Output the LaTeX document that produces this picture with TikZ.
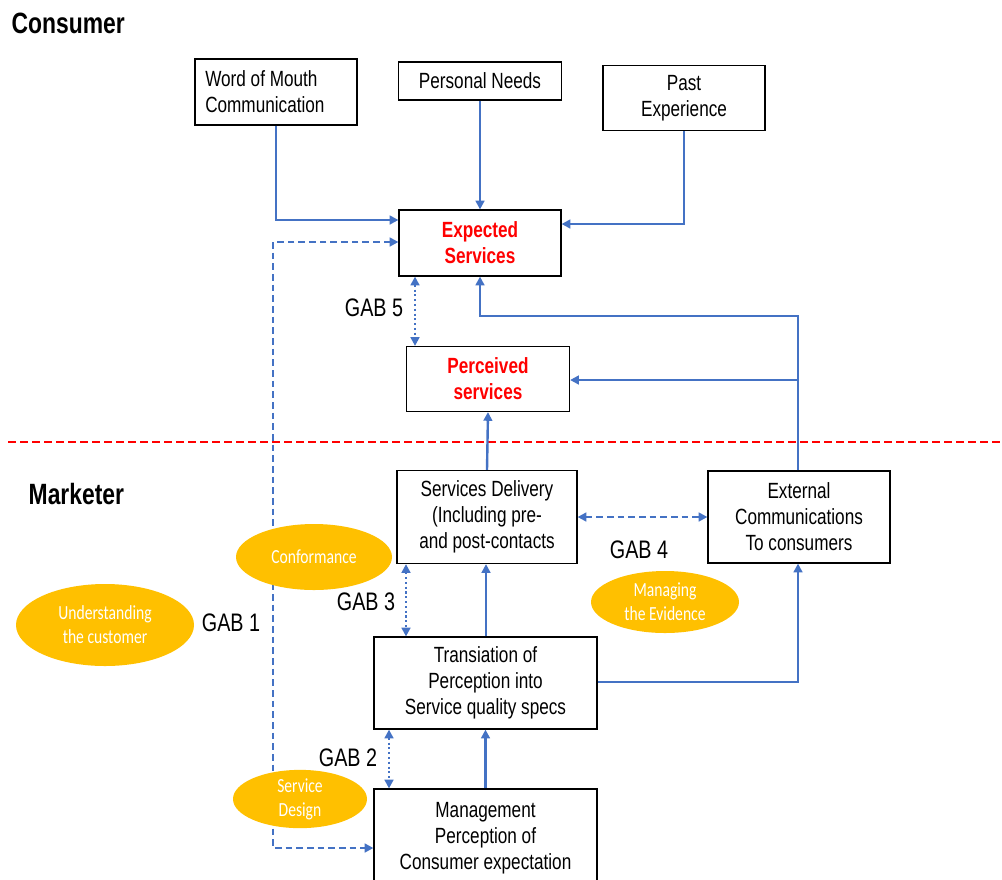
\documentclass[tikz,border=0pt]{standalone}
\usepackage{fontspec}
\setmainfont{Liberation Sans}[FakeStretch=0.78]
\newfontfamily\ellfont{Carlito}[FakeStretch=0.78]
\usetikzlibrary{arrows.meta,shapes.geometric}
\definecolor{blu}{HTML}{4472C4}
\definecolor{gold}{HTML}{FFC000}
\definecolor{redd}{HTML}{FF0000}
\tikzset{
  box/.style={draw=black,line width=0.9pt,align=center,inner sep=0pt,
    font=\fontsize{16.5}{19.5}\selectfont},
  redtxt/.style={text=redd,font=\fontsize{16.5}{19.5}\selectfont\bfseries},
  conn/.style={draw=blu,line width=1.8pt,-{Triangle[length=6.5pt,width=6.5pt]}},
  dconn/.style={draw=blu,line width=1.8pt,dash pattern=on 5pt off 3pt,
    {Triangle[length=6.5pt,width=6.5pt]}-{Triangle[length=6.5pt,width=6.5pt]}},
  gapconn/.style={draw=blu,line width=1.8pt,dash pattern=on 1.6pt off 2pt,
    {Triangle[length=6.5pt,width=6.5pt]}-{Triangle[length=6.5pt,width=6.5pt]}},
  gab/.style={font=\fontsize{19}{22}\selectfont},
  ell/.style={ellipse,fill=gold,draw=none,text=white,align=center,inner sep=0pt,
    font=\ellfont\fontsize{15}{18}\selectfont},
  title/.style={font=\fontsize{22}{26}\selectfont\bfseries,anchor=west}
}
\begin{document}
\begin{tikzpicture}[x=0.75pt,y=-0.75pt]
\useasboundingbox (0,0) rectangle (1002,879);
\node[title] (cons) at (7,23) {Consumer};
\node[title] (mark) at (24,494) {Marketer};
% separator
\coordinate (sepL) at (8,442);
\coordinate (sepR) at (1002,442);
\draw[redd,line width=1.5pt,dash pattern=on 6pt off 3pt] (sepL) -- (sepR);

% boxes
\node[box,minimum width=121.5pt,minimum height=49.5pt] (wom) at (276,92) {};
\node[font=\fontsize{16.5}{19.5}\selectfont,align=left,inner sep=0pt,anchor=west] (womtxt) at (205,92) {Word of Mouth\\Communication};
\node[box,minimum width=122.25pt,minimum height=28.5pt] (pn) at (480,81) {Personal Needs};
\node[box,minimum width=121.5pt,minimum height=48.75pt] (pe) at (684,98) {Past\\Experience};
\node[box,minimum width=121.5pt,minimum height=49.5pt,redtxt] (exp) at (480,243) {Expected\\Services};
\node[box,minimum width=122.25pt,minimum height=48.75pt,redtxt] (per) at (488,379) {Perceived\\services};
\node[box,minimum width=135pt,minimum height=69.75pt] (sd) at (487,517) {Services Delivery\\(Including pre-\\and post-contacts};
\node[box,minimum width=136.5pt,minimum height=69pt] (ext) at (799,517) {External\\Communications\\To consumers};
\node[box,minimum width=167.25pt,minimum height=69pt] (tr) at (485.5,683) {Transiation of\\Perception into\\Service quality specs};
\node[box,minimum width=167.25pt,minimum height=73.5pt] (mg) at (485.5,838) {Management\\Perception of\\Consumer expectation};

% consumer side connectors
\draw[conn] (wom.south) |- (exp.west |- 0,220);
\draw[conn] (pn.south) -- (exp.north);
\draw[conn] (pe.south) |- (exp.east |- 0,224);
\coordinate (dA) at (273,242);
\coordinate (dB) at (273,848);
\draw[dconn] (exp.west |- dA) -- (dA) -- (dB) -- (mg.west |- dB);

\coordinate (eTop) at (798,316);
\coordinate (eMid) at (798,380);
\draw[conn] (ext.north -| eTop) -- (eTop) -| (exp.south);
\draw[conn] (eMid) -- (per.east |- eMid);
\draw[conn] (sd.north) -- (per.south);
\draw[conn] (tr.north -| 486,0) -- (sd.south -| 486,0);
\coordinate (tR) at (798,682);
\draw[conn] (tr.east |- tR) -- (tR) -- (ext.south -| tR);
\draw[conn] (mg.north) -- (tr.south);

% gaps
\draw[gapconn] (exp.south -| 415,0) -- (per.north -| 415,0);
\draw[dconn] (sd.east |- 0,517) -- (ext.west |- 0,517);
\draw[gapconn] (sd.south -| 406,0) -- (tr.north -| 406,0);
\draw[gapconn] (tr.south -| 389,0) -- (mg.north -| 389,0);

\node[gab] (g5) at (374,308) {GAB 5};
\node[gab] (g4) at (639,550) {GAB 4};
\node[gab] (g3) at (366,602) {GAB 3};
\node[gab] (g2) at (348,758) {GAB 2};
\node[gab] (g1) at (231,623) {GAB 1};

% ellipses
\node[ell,minimum width=117pt,minimum height=49.5pt] (conf) at (314,557) {Conformance};
\node[ell,minimum width=133.5pt,minimum height=61.5pt] (und) at (105,625) {Understanding\\the customer};
\node[ell,minimum width=111pt,minimum height=46.5pt] (me) at (665,602) {Managing\\the Evidence};
\node[ell,minimum width=100.5pt,minimum height=40.5pt] (sdes) at (300,799) {Service\\Design};
\end{tikzpicture}
\end{document}
